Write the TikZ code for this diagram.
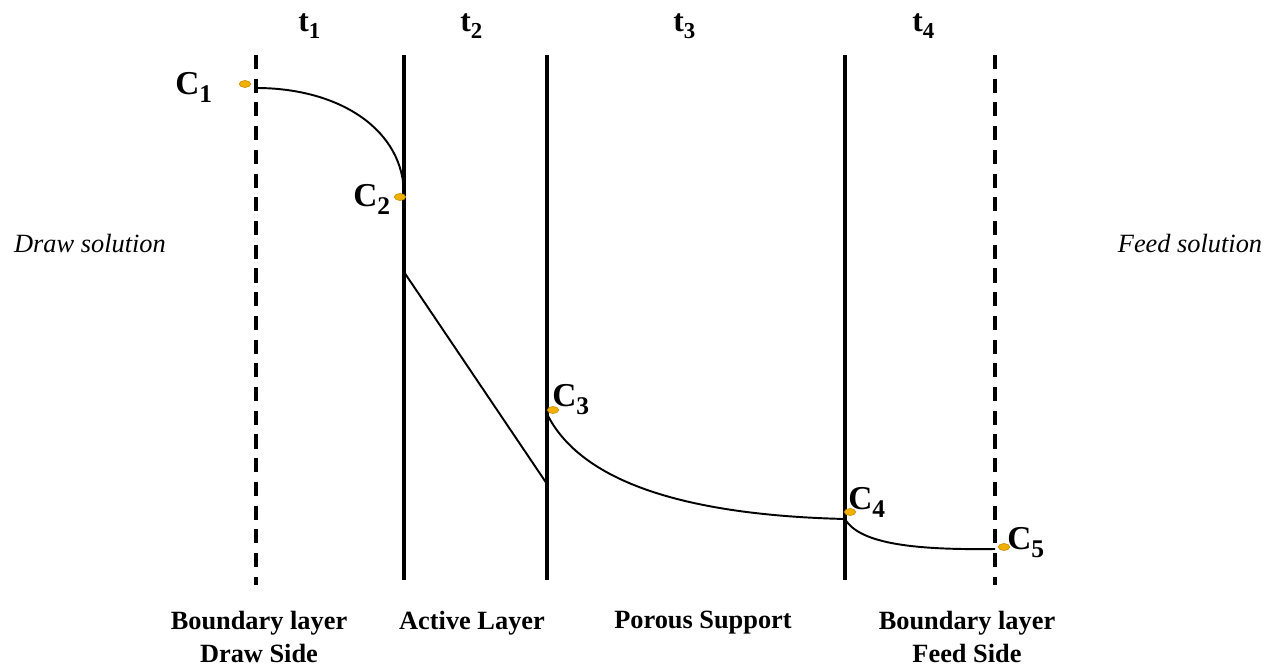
\documentclass[tikz,border=0pt]{standalone}
\usepackage{fontspec}
\setmainfont{Liberation Serif}
\usetikzlibrary{shapes.geometric}
\definecolor{dotcol}{RGB}{240,176,0}
\definecolor{dotedge}{RGB}{196,136,0}
\newcommand{\Conc}[1]{{\fontsize{19}{20}\selectfont\bfseries C}\raisebox{-4.5pt}{\fontsize{14.5}{15}\selectfont\bfseries #1}}
\newcommand{\Thick}[1]{{\fontsize{18}{18}\selectfont\bfseries t}\raisebox{-3.5pt}{\fontsize{13}{13}\selectfont\bfseries #1}}

\begin{document}
\begin{tikzpicture}[x=0.02cm,y=-0.02cm,
  wall/.style={line width=2pt},
  blayer/.style={line width=1.8pt,dash pattern=on 8pt off 5.5pt},
  prof/.style={line width=1.1pt},
  cdot/.style={ellipse,fill=dotcol,draw=dotedge,line width=0.3pt,minimum width=6.5pt,minimum height=4pt,inner sep=0pt},
  clab/.style={anchor=base west,inner sep=0pt},
  lab/.style={font=\fontsize{15}{18.5}\selectfont\bfseries,align=center,anchor=north,inner sep=0pt},
  side/.style={font=\fontsize{15}{18}\selectfont\itshape}]
  \useasboundingbox (0,0) rectangle (1278,668);
  % layer walls
  \draw[blayer] (256,55) -- (256,585);
  \draw[wall] (404,55) -- (404,580);
  \draw[wall] (547,55) -- (547,580);
  \draw[wall] (845,55) -- (845,580);
  \draw[blayer] (995,55) -- (995,585);
  % thickness labels
  \node[clab] (t1) at (298,32) {\Thick{1}};
  \node[clab] (t2) at (460,32) {\Thick{2}};
  \node[clab] (t3) at (673,32) {\Thick{3}};
  \node[clab] (t4) at (912,32) {\Thick{4}};
  % concentration profile
  \coordinate (p1) at (256,88);
  \coordinate (p2) at (404,195);
  \coordinate (p3) at (404,272);
  \coordinate (p4) at (547,484);
  \coordinate (p5) at (547,414);
  \coordinate (p6) at (845,519);
  \coordinate (p7) at (995,549);
  \draw[prof] (p1) .. controls (340,88) and (404,130) .. (p2);
  \draw[prof] (p3) -- (p4);
  \draw[prof] (p5) .. controls (580,480) and (680,515) .. (p6);
  \draw[prof] (p6) .. controls (860,545) and (920,550) .. (p7);
  % concentration points
  \node[cdot] (c1) at (245,84) {};
  \node[cdot] (c2) at (400,197) {};
  \node[cdot] (c3) at (553,410) {};
  \node[cdot] (c4) at (850,512) {};
  \node[cdot] (c5) at (1004,547) {};
  \node[clab] (l1) at (175,95) {\Conc{1}};
  \node[clab] (l2) at (353,207) {\Conc{2}};
  \node[clab] (l3) at (552,407) {\Conc{3}};
  \node[clab] (l4) at (848,510) {\Conc{4}};
  \node[clab] (l5) at (1007,550) {\Conc{5}};
  % solutions
  \node[side] (draw) at (90,244) {Draw solution};
  \node[side] (feed) at (1190,244) {Feed solution};
  % layer names
  \node[lab] (bld) at (259,611) {Boundary layer\\Draw Side};
  \node[lab] (act) at (472,611) {Active Layer};
  \node[lab] (por) at (703,611) {Porous Support};
  \node[lab] (blf) at (967,611) {Boundary layer\\Feed Side};
\end{tikzpicture}
\end{document}
